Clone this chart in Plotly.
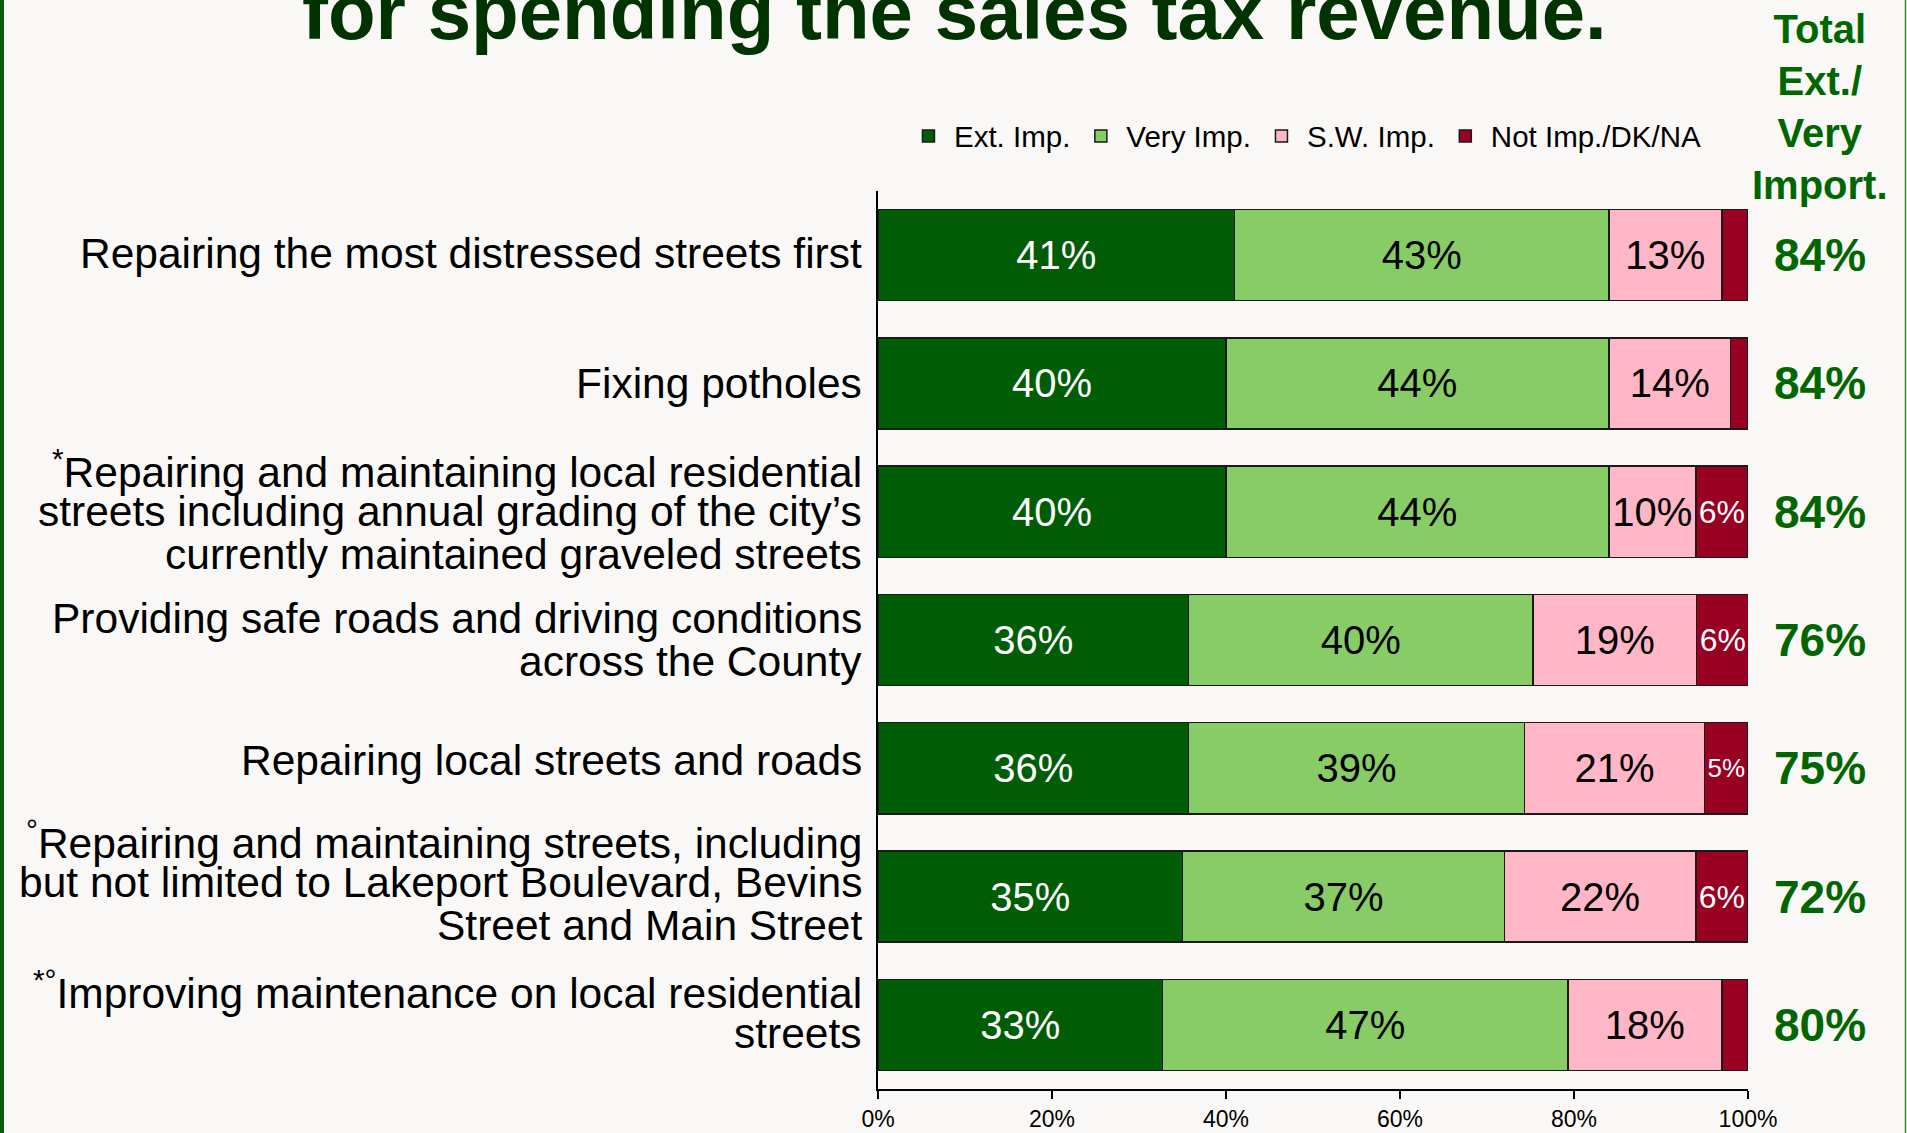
import plotly.graph_objects as go

# survey items, top to bottom
items = [
    "Repairing the most distressed streets first",
    "Fixing potholes",
    "<sup>*</sup>Repairing and maintaining local residential<br>streets including annual grading of the city’s<br>currently maintained graveled streets",
    "Providing safe roads and driving conditions<br>across the County",
    "Repairing local streets and roads",
    "<sup>°</sup>Repairing and maintaining streets, including<br>but not limited to Lakeport Boulevard, Bevins<br>Street and Main Street",
    "<sup>*°</sup>Improving maintenance on local residential<br>streets",
]

ext_imp = [41, 40, 40, 35.7, 35.7, 35, 32.7]
very_imp = [43, 44, 44, 39.6, 38.6, 37, 46.6]
sw_imp = [13, 14, 10, 18.8, 20.7, 22, 17.7]
not_imp = [3, 2, 6, 6, 5, 6, 3]

total_ext_very = ["84%", "84%", "84%", "76%", "75%", "72%", "80%"]

series_names = ["Ext. Imp.", "Very Imp.", "S.W. Imp.", "Not Imp./DK/NA"]
series_colors = ["#005C05", "#88CC66", "#FFB6C6", "#990022"]
text_colors = ["white", "black", "black", "white"]

tick_vals = [0, 20, 40, 60, 80, 100]
tick_text = ["0%", "20%", "40%", "60%", "80%", "100%"]

fig = go.Figure()

for name, vals, col, tcol in zip(series_names, [ext_imp, very_imp, sw_imp, not_imp], series_colors, text_colors):
    # small slivers get no label
    labels = [f"{v:.0f}%" if v >= 4.5 else "" for v in vals]
    fig.add_trace(go.Bar(
        name=name,
        y=items,
        x=vals,
        orientation="h",
        marker=dict(color=col, line=dict(color="#1a1a1a", width=1.5)),
        text=labels,
        textposition="inside",
        insidetextanchor="middle",
        textangle=0,
        textfont=dict(size=40, color=tcol, family="Liberation Sans"),
        hoverinfo="skip",
    ))

# category labels drawn line by line (tighter line spacing than tick labels allow)
label_offsets = [2, 0, 0, 0, 8, 14, 13]
line_step = 43
for item, off in zip(items, label_offsets):
    lines = item.split("<br>")
    n = len(lines)
    for j, ln in enumerate(lines):
        fig.add_annotation(
            x=-0.0161, xref="paper", y=item, yref="y",
            text=ln, showarrow=False, xanchor="right", yanchor="middle",
            yshift=((n - 1) / 2 - j) * line_step + off,
            font=dict(size=42.5, color="black", family="Liberation Sans"),
        )

# totals column on the right
for item, tot in zip(items, total_ext_very):
    fig.add_annotation(
        x=1.083, xref="paper", y=item, yref="y",
        text=f"<b>{tot}</b>", showarrow=False, xanchor="center", yanchor="middle",
        font=dict(size=46, color="#006600", family="Liberation Sans"),
    )

fig.add_annotation(
    x=1.083, xref="paper", y=1.094, yref="paper",
    text="<b>Total<br>Ext./<br>Very<br>Import.</b>", showarrow=False,
    xanchor="center", yanchor="middle", align="center",
    font=dict(size=40, color="#006600", family="Liberation Sans"),
)

# title (upper line is cut off in the original slide)
fig.add_annotation(
    x=0.0885, xref="paper", y=1.199, yref="paper",
    text="<b>for spending the sales tax revenue.</b>", showarrow=False,
    xanchor="center", yanchor="middle",
    font=dict(size=78, color="#003300", family="Liberation Sans"),
)

# slide borders
fig.add_shape(type="rect", xref="paper", yref="paper",
              x0=(0 - 878) / 870, x1=(4 - 878) / 870, y0=-1, y1=2,
              fillcolor="#0B5A0B", line=dict(width=0), layer="above")
fig.add_shape(type="line", xref="paper", yref="paper",
              x0=(1905.5 - 878) / 870, x1=(1905.5 - 878) / 870, y0=-1, y1=2,
              line=dict(color="#2E8B2E", width=1.5))

fig.update_layout(
    barmode="stack",
    bargap=0.29,
    width=1907, height=1133,
    margin=dict(l=878, r=159, t=191, b=44),
    paper_bgcolor="#F9F8F6",
    plot_bgcolor="#F9F8F6",
    font=dict(family="Liberation Sans", color="black"),
    showlegend=True,
    legend=dict(
        orientation="h", x=0.0287, y=1.061, xanchor="left", yanchor="middle",
        font=dict(size=29.5, color="black"), bgcolor="rgba(0,0,0,0)",
        traceorder="normal", itemwidth=41,
    ),
)

fig.update_xaxes(
    range=[0, 100], tickvals=tick_vals, ticktext=tick_text, automargin=False,
    showgrid=False, zeroline=False, showline=True, linecolor="black", linewidth=2,
    ticks="outside", ticklen=8, tickwidth=2, tickcolor="black",
    tickfont=dict(size=23, color="black"),
)
fig.update_yaxes(
    autorange="reversed", showticklabels=False, showgrid=False, zeroline=False,
    showline=True, linecolor="black", linewidth=2, ticks="", automargin=False,
)

fig.write_html(
    "out.html",
    config={"displayModeBar": False},
    post_script="document.body.style.margin='0';document.body.style.background='#F9F8F6';",
)
